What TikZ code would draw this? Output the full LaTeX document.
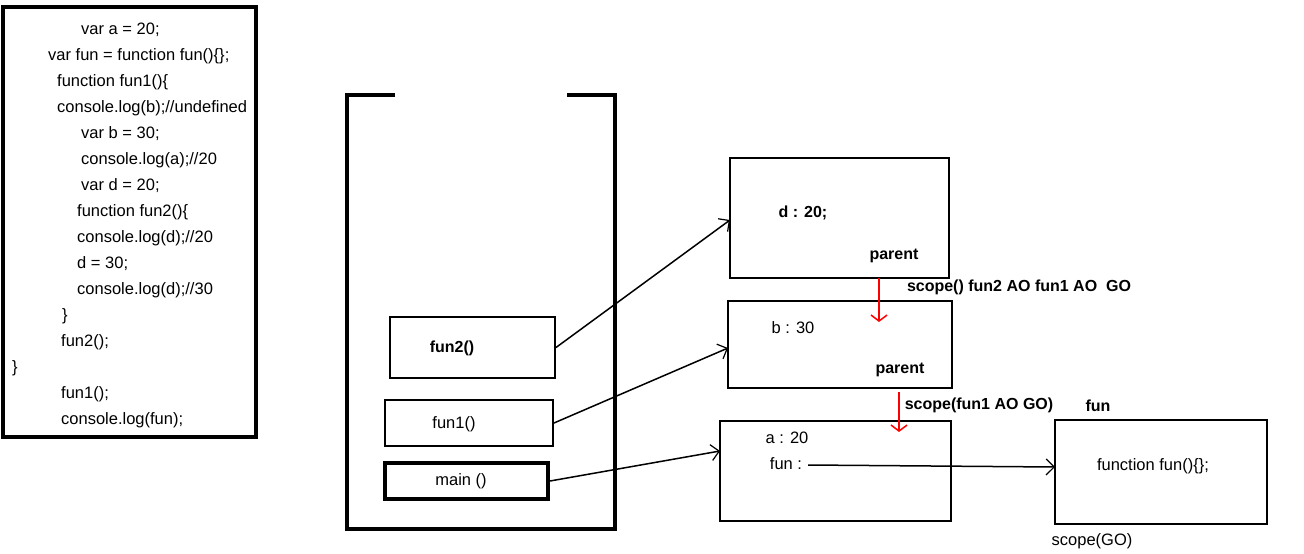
\documentclass[tikz,border=0pt]{standalone}
\usepackage{fontspec}
\setmainfont{Liberation Sans}
\usetikzlibrary{arrows.meta}
\begin{document}
\begin{tikzpicture}[x=1pt,y=-1pt,
  box/.style={draw,line width=2pt},
  t/.style={font=\fontsize{16.5}{19}\selectfont,inner sep=0pt},
  b/.style={t,font=\fontsize{16}{19}\selectfont\bfseries},
  con/.style={line width=1.5pt,-{Straight Barb[length=8pt,width=16pt,line width=1.2pt]}},
  red/.style={draw=red,line width=1.5pt,-{Straight Barb[length=6pt,width=16pt]}}]
\useasboundingbox (0,0) rectangle (1304,554);
% code box
\draw[line width=4pt] (3,7) rectangle (256,437);
\foreach \x/\y/\s in {81/30/{var a = 20;},48/56/{var fun = function fun()\{\};},57/82/{function fun1()\{},57/108/{console.log(b);//undefined},81/134/{var b = 30;},81/160/{console.log(a);//20},81/186/{var d = 20;},77/212/{function fun2()\{},77/238/{console.log(d);//20},77/264/{d = 30;},77/290/{console.log(d);//30},62/316/\},61/342/{fun2();},12/368/\},61/394/{fun1();},61/420/{console.log(fun);}}
  \node[t,anchor=west] at (\x,\y) {\s};
% stack
\draw[line width=4pt] (395,95) -- (347,95) -- (347,529) -- (615,529) -- (615,95) -- (567,95);
\node[box,minimum width=165pt,minimum height=61pt] (f2) at (472.5,347.5) {};
\node[b] at (452,348) {fun2()};
\node[box,minimum width=168pt,minimum height=46pt] (f1) at (469,423) {};
\node[t] at (454,424) {fun1()};
\node[draw,line width=4pt,minimum width=163pt,minimum height=36pt] (mn) at (466.5,481) {};
\node[t] at (461,481) {main ()};
% scope boxes
\node[box,minimum width=219pt,minimum height=120pt] (A) at (839.5,218) {};
\node[box,minimum width=224pt,minimum height=87pt] (B) at (840,344.5) {};
\node[box,minimum width=231pt,minimum height=100pt] (C) at (835.5,471) {};
\node[box,minimum width=212pt,minimum height=104pt] (D) at (1161,472) {};
\node[b] at (803,213) {d : 20;};
\node[b] (pa) at (894,256) {parent};
\node[b] at (1019,287) {scope() fun2 AO fun1 AO~~GO};
\node[t] at (793,328) {b : 30};
\node[b] (pb) at (900,370) {parent};
\node[b] at (979,405) {scope(fun1 AO GO)};
\node[b] at (1098,406) {fun};
\node[t] at (787,438) {a : 20};
\node[t] (fn) at (786,464) {fun :};
\node[t] at (1153,466) {function fun()\{\};};
\node[t] at (1092,541) {scope(GO)};
% connectors
\coordinate (a1) at (730,220); \coordinate (a2) at (728,348); \coordinate (a3) at (720,451);
\coordinate (a4) at (1055,467); \coordinate (s) at (808,465);
\draw[con] (f2.east) -- (a1);
\draw[con] (f1.east) -- (a2);
\draw[con] (mn.east) -- (a3);
\draw[con] (s) -- (a4);
\coordinate (r1) at (879,278); \coordinate (r2) at (879,322);
\coordinate (r3) at (899,392); \coordinate (r4) at (899,432);
\draw[red] (r1) -- (r2);
\draw[red] (r3) -- (r4);
\end{tikzpicture}
\end{document}
